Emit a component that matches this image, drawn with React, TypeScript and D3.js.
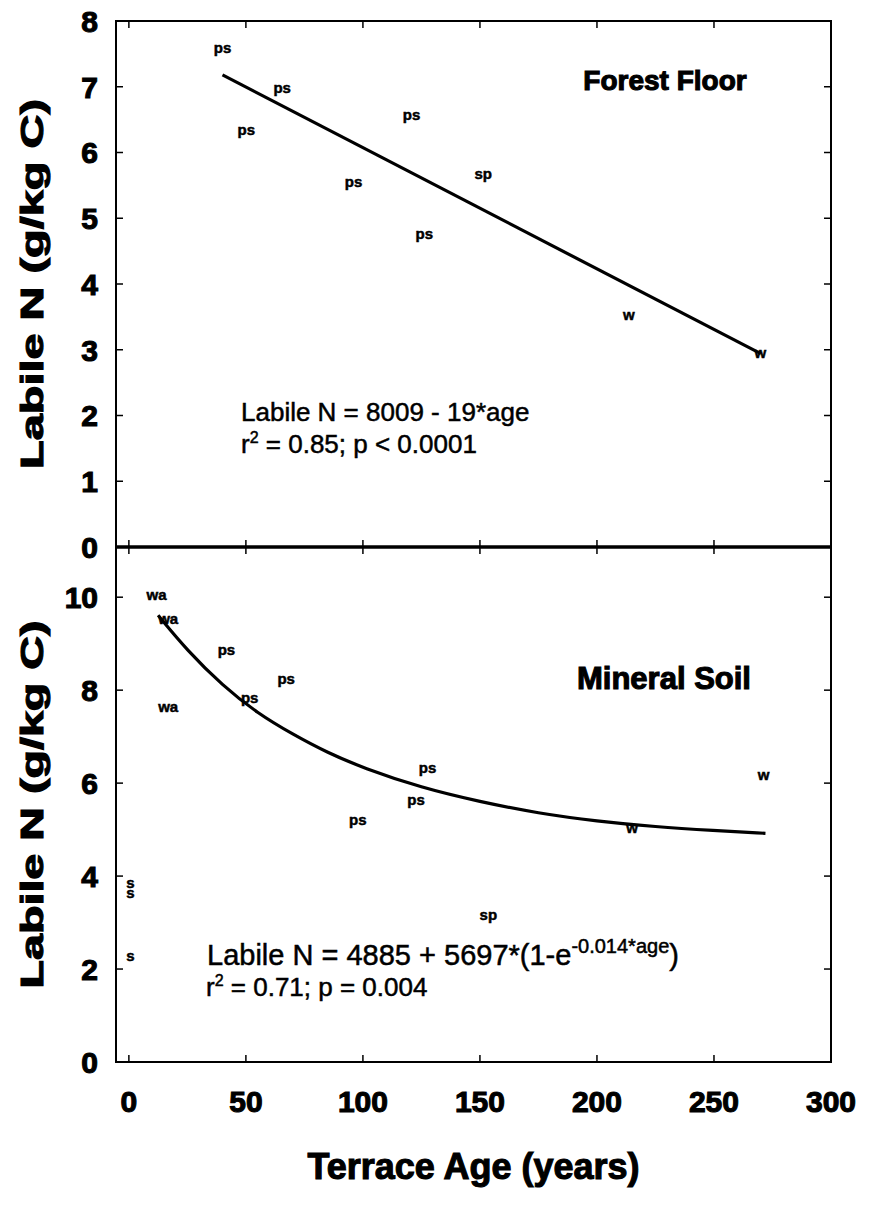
import React from "react";
import * as d3 from "d3";

// ---- Data ----
const xTicks = [0, 50, 100, 150, 200, 250, 300];
const topYTicks = [0, 1, 2, 3, 4, 5, 6, 7, 8];
const bottomYTicks = [0, 2, 4, 6, 8, 10];

// Forest floor points
const topAges = [40, 65.5, 50.2, 120.8, 96, 151.4, 126.2, 213.6, 269.8];
const topValues = [7.58, 6.98, 6.33, 6.57, 5.55, 5.66, 4.76, 3.52, 2.94];
const topLabels = ["ps", "ps", "ps", "ps", "ps", "sp", "ps", "w", "w"];
const topFitAges = [40, 270];
const topFitValues = [7.18, 2.94];

// Mineral soil points
const bottomAges = [11.8, 16.8, 16.8, 41.7, 67.2, 51.6, 127.6, 122.7, 97.8, 153.6, 271.2, 215, 0.7, 0.7, 0.7];
const bottomValues = [10.04, 9.52, 7.62, 8.86, 8.23, 7.83, 6.32, 5.62, 5.2, 3.16, 6.17, 5.03, 3.83, 3.63, 2.26];
const bottomLabels = ["wa", "wa", "wa", "ps", "ps", "ps", "ps", "ps", "ps", "sp", "w", "w", "s", "s", "s"];
const bottomFitAges = [12.5, 25, 40, 55, 70, 85, 100, 125, 150, 175, 200, 225, 250, 272];
const bottomFitValues = [9.61, 8.85, 8.1, 7.5, 7.05, 6.65, 6.33, 5.9, 5.6, 5.35, 5.18, 5.06, 4.98, 4.92];

const W = 869;
const H = 1205;
const L = 116;
const R = 831;
const TOP = 21;
const MID = 547;
const BOT = 1062;

const FONT = "'Liberation Sans', Arial, Helvetica, sans-serif";
const heavy = { fontFamily: FONT, fontWeight: 700, stroke: "#000", strokeWidth: 1.1, fill: "#000" } as const;
const ptStyle = { fontFamily: FONT, fontWeight: 700, stroke: "#000", strokeWidth: 0.5 } as const;

export default function App() {
  const x = d3.scaleLinear().domain([-5.5, 300]).range([L, R]);
  const yTop = d3.scaleLinear().domain([0, 8]).range([MID, TOP]);
  const yBot = d3.scaleLinear().domain([0, 11.08]).range([BOT, MID]);

  const topLine = d3
    .line<number>()
    .x((_, i) => x(topFitAges[i]))
    .y((d) => yTop(d))(topFitValues);
  const botLine = d3
    .line<number>()
    .x((_, i) => x(bottomFitAges[i]))
    .y((d) => yBot(d))
    .curve(d3.curveBasis)(bottomFitValues);

  const tl = 7;

  return (
    <div style={{ position: "absolute", left: 0, top: 0 }}>
      <svg width={W} height={H} style={{ display: "block", background: "#fff" }}>
        {/* frames */}
        <rect x={L} y={TOP} width={R - L} height={BOT - TOP} fill="none" stroke="#000" strokeWidth={2} />
        <line x1={L} x2={R} y1={MID} y2={MID} stroke="#000" strokeWidth={3.5} />

        {/* x ticks */}
        {xTicks.map((t) => (
          <g key={"xt" + t} stroke="#000" strokeWidth={1.5}>
            <line x1={x(t)} x2={x(t)} y1={TOP} y2={TOP + tl} />
            <line x1={x(t)} x2={x(t)} y1={MID - tl} y2={MID + tl} />
            <line x1={x(t)} x2={x(t)} y1={BOT} y2={BOT - tl} />
          </g>
        ))}
        {/* y ticks */}
        {topYTicks.map((t) => (
          <g key={"yt" + t} stroke="#000" strokeWidth={1.5}>
            <line x1={L} x2={L + tl} y1={yTop(t)} y2={yTop(t)} />
            <line x1={R} x2={R - tl} y1={yTop(t)} y2={yTop(t)} />
          </g>
        ))}
        {bottomYTicks.map((t) => (
          <g key={"yb" + t} stroke="#000" strokeWidth={1.5}>
            <line x1={L} x2={L + tl} y1={yBot(t)} y2={yBot(t)} />
            <line x1={R} x2={R - tl} y1={yBot(t)} y2={yBot(t)} />
          </g>
        ))}

        {/* tick labels */}
        {topYTicks.map((t) => (
          <text key={"ytl" + t} x={98} y={yTop(t)} dy="0.36em" textAnchor="end" fontSize={30} style={heavy}>
            {t}
          </text>
        ))}
        {bottomYTicks.map((t) => (
          <text key={"ybl" + t} x={98} y={yBot(t)} dy="0.36em" textAnchor="end" fontSize={30} style={heavy}>
            {t}
          </text>
        ))}
        {xTicks.map((t) => (
          <text key={"xtl" + t} x={x(t)} y={1101} dy="0.36em" textAnchor="middle" fontSize={30} style={heavy}>
            {t}
          </text>
        ))}

        {/* axis titles */}
        <text
          transform={`translate(32,${(TOP + MID) / 2}) rotate(-90)`}
          textAnchor="middle"
          dy="0.35em"
          fontSize={32}
          textLength={370}
          lengthAdjust="spacingAndGlyphs"
          style={heavy}
        >
          Labile N (g/kg C)
        </text>
        <text
          transform={`translate(32,${(MID + BOT) / 2}) rotate(-90)`}
          textAnchor="middle"
          dy="0.35em"
          fontSize={32}
          textLength={368}
          lengthAdjust="spacingAndGlyphs"
          style={heavy}
        >
          Labile N (g/kg C)
        </text>
        <text x={(L + R) / 2} y={1166} dy="0.36em" textAnchor="middle" fontSize={36} style={heavy}>
          Terrace Age (years)
        </text>

        {/* panel titles */}
        <text x={665} y={80} dy="0.36em" textAnchor="middle" fontSize={28} style={heavy}>
          Forest Floor
        </text>
        <text x={664} y={678} dy="0.36em" textAnchor="middle" fontSize={31} style={heavy}>
          Mineral Soil
        </text>

        {/* fit lines */}
        <path d={topLine ?? ""} fill="none" stroke="#000" strokeWidth={3.2} />
        <path d={botLine ?? ""} fill="none" stroke="#000" strokeWidth={3.2} />

        {/* point labels */}
        {topAges.map((a, i) => (
          <text key={"tp" + i} x={x(a)} y={yTop(topValues[i])} dy="0.3em" textAnchor="middle" fontSize={15} style={ptStyle}>
            {topLabels[i]}
          </text>
        ))}
        {bottomAges.map((a, i) => (
          <text key={"bp" + i} x={x(a)} y={yBot(bottomValues[i])} dy="0.3em" textAnchor="middle" fontSize={15} style={ptStyle}>
            {bottomLabels[i]}
          </text>
        ))}

        {/* annotations */}
        <g style={{ fontFamily: FONT, fill: "#000", stroke: "#000", strokeWidth: 0.5 }} fontSize={26}>
          <text x={241} y={421}>Labile N = 8009 - 19*age</text>
          <text x={241} y={453}>
            r<tspan fontSize={16} dy={-10}>2</tspan>
            <tspan dy={10}> = 0.85; p &lt; 0.0001</tspan>
          </text>
          <text x={207} y={965} fontSize={29}>
            Labile N = 4885 + 5697*(1-e
            <tspan fontSize={20} dy={-12}>-0.014*age</tspan>
            <tspan dy={12}>)</tspan>
          </text>
          <text x={206} y={996}>
            r<tspan fontSize={16} dy={-10}>2</tspan>
            <tspan dy={10}> = 0.71; p = 0.004</tspan>
          </text>
        </g>
      </svg>
    </div>
  );
}
